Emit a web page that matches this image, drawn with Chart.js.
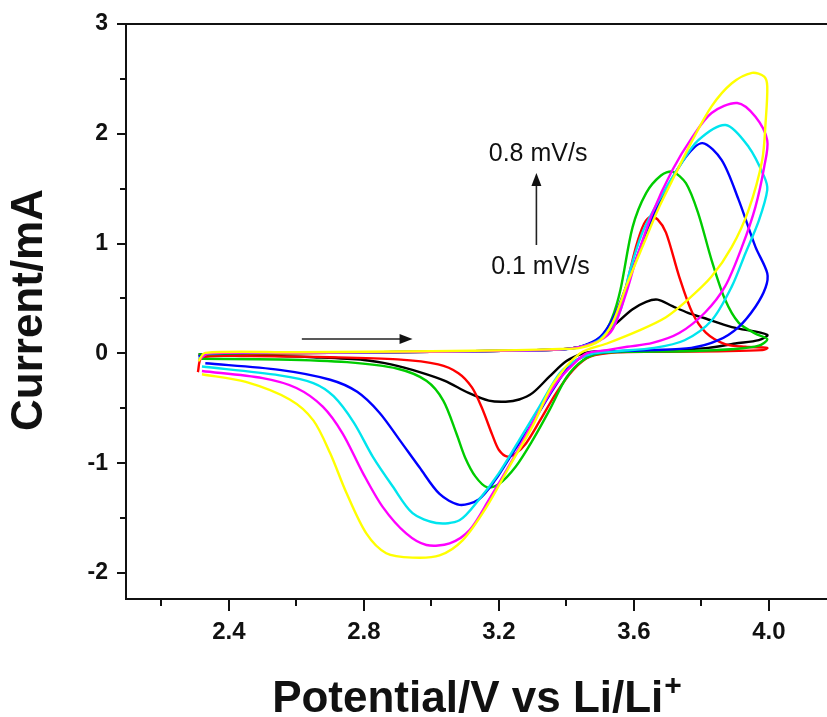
<!DOCTYPE html>
<html>
<head>
<meta charset="utf-8">
<script src="https://cdn.jsdelivr.net/npm/chart.js@4.4.1/dist/chart.umd.min.js"></script>
<style>
  html, body { margin: 0; padding: 0; background: #fff; }
  #wrap { width: 827px; height: 717px; position: relative; }
</style>
</head>
<body>
<div id="wrap"><canvas id="cv_chart"></canvas></div>
<script>
// scan rates in mV/s, slowest first
const scanRates = ['0.1', '0.2', '0.3', '0.4', '0.5', '0.6', '0.8'];
const curveColors = ['#000000', '#ff0000', '#00cc00', '#0000ff', '#00e5ee', '#ff00ff', '#ffff00'];

// one full sweep per rate: [potential (V), current (mA)]
const cv01 = [[2.31,-0.01],[2.45,0.0],[2.7,0.005],[3.0,0.015],[3.25,0.025],[3.38,0.035],[3.44,0.06],[3.48,0.1],[3.51,0.17],[3.55,0.28],[3.595,0.40],[3.636,0.47],[3.67,0.49],[3.714,0.43],[3.76,0.37],[3.81,0.32],[3.89,0.24],[3.995,0.17],[3.97,0.12],[3.9,0.09],[3.82,0.05],[3.7,0.03],[3.58,0.02],[3.5,0.02],[3.45,0.0],[3.40,-0.07],[3.35,-0.21],[3.30,-0.36],[3.26,-0.42],[3.22,-0.44],[3.17,-0.43],[3.11,-0.36],[3.04,-0.25],[2.965,-0.17],[2.88,-0.10],[2.80,-0.06],[2.65,-0.035],[2.5,-0.02],[2.32,-0.015]];
const cv02 = [[2.31,-0.02],[2.45,-0.005],[2.7,0.005],[3.0,0.015],[3.25,0.025],[3.38,0.035],[3.44,0.06],[3.49,0.11],[3.52,0.18],[3.55,0.34],[3.572,0.55],[3.606,0.97],[3.63,1.18],[3.65,1.245],[3.67,1.22],[3.695,1.10],[3.734,0.70],[3.773,0.37],[3.813,0.19],[3.87,0.085],[3.93,0.06],[3.995,0.05],[3.98,0.03],[3.85,0.02],[3.7,0.015],[3.55,0.01],[3.47,-0.03],[3.42,-0.15],[3.37,-0.36],[3.32,-0.62],[3.28,-0.82],[3.25,-0.91],[3.225,-0.94],[3.20,-0.88],[3.18,-0.74],[3.15,-0.50],[3.12,-0.31],[3.08,-0.18],[3.02,-0.10],[2.90,-0.055],[2.70,-0.035],[2.45,-0.025],[2.32,-0.04],[2.308,-0.17]];
const cv03 = [[2.31,-0.01],[2.45,0.0],[2.7,0.005],[3.0,0.015],[3.25,0.025],[3.38,0.035],[3.44,0.06],[3.48,0.1],[3.507,0.16],[3.535,0.32],[3.56,0.58],[3.596,1.15],[3.636,1.46],[3.68,1.62],[3.714,1.655],[3.754,1.55],[3.79,1.28],[3.83,0.85],[3.87,0.49],[3.91,0.28],[3.96,0.18],[3.995,0.13],[3.97,0.07],[3.9,0.04],[3.75,0.02],[3.6,0.015],[3.5,0.0],[3.45,-0.06],[3.40,-0.22],[3.35,-0.515],[3.30,-0.79],[3.25,-1.03],[3.20,-1.19],[3.165,-1.22],[3.13,-1.12],[3.10,-0.95],[3.074,-0.73],[3.035,-0.43],[2.985,-0.25],[2.90,-0.14],[2.75,-0.08],[2.55,-0.055],[2.32,-0.05]];
const cv04 = [[2.31,-0.03],[2.34,0.0],[2.6,0.005],[3.0,0.015],[3.25,0.025],[3.38,0.035],[3.44,0.06],[3.50,0.15],[3.54,0.33],[3.577,0.61],[3.636,1.10],[3.695,1.49],[3.754,1.79],[3.803,1.915],[3.86,1.76],[3.91,1.40],[3.96,0.97],[3.995,0.73],[3.99,0.6],[3.96,0.425],[3.91,0.24],[3.85,0.12],[3.77,0.05],[3.65,0.03],[3.5,0.01],[3.45,-0.03],[3.41,-0.11],[3.36,-0.33],[3.30,-0.63],[3.24,-0.91],[3.19,-1.15],[3.14,-1.33],[3.083,-1.38],[3.024,-1.28],[2.965,-1.04],[2.906,-0.79],[2.846,-0.54],[2.78,-0.35],[2.70,-0.24],[2.55,-0.15],[2.33,-0.09]];
const cv05 = [[2.31,-0.05],[2.34,0.0],[2.6,0.005],[3.0,0.015],[3.25,0.025],[3.38,0.035],[3.44,0.06],[3.50,0.13],[3.557,0.37],[3.586,0.73],[3.625,1.10],[3.675,1.40],[3.734,1.70],[3.79,1.94],[3.872,2.08],[3.94,1.88],[3.986,1.61],[3.995,1.49],[3.97,1.21],[3.93,0.91],[3.89,0.61],[3.83,0.30],[3.75,0.12],[3.66,0.05],[3.55,0.02],[3.48,0.0],[3.43,-0.06],[3.38,-0.18],[3.32,-0.485],[3.26,-0.79],[3.20,-1.09],[3.14,-1.335],[3.083,-1.52],[3.014,-1.545],[2.944,-1.455],[2.885,-1.21],[2.826,-0.94],[2.77,-0.63],[2.71,-0.39],[2.65,-0.27],[2.55,-0.20],[2.32,-0.12]];
const cv06 = [[2.31,-0.06],[2.34,0.0],[2.6,0.005],[3.0,0.015],[3.25,0.025],[3.38,0.035],[3.44,0.06],[3.50,0.12],[3.537,0.22],[3.577,0.55],[3.606,0.85],[3.655,1.28],[3.714,1.67],[3.773,1.97],[3.83,2.19],[3.906,2.28],[3.96,2.155],[3.995,1.94],[3.986,1.70],[3.96,1.335],[3.92,0.97],[3.87,0.61],[3.81,0.37],[3.734,0.185],[3.655,0.095],[3.58,0.06],[3.52,0.03],[3.46,0.0],[3.42,-0.1],[3.37,-0.27],[3.30,-0.63],[3.24,-0.97],[3.17,-1.335],[3.113,-1.61],[3.054,-1.73],[2.985,-1.745],[2.925,-1.64],[2.856,-1.40],[2.797,-1.09],[2.737,-0.73],[2.678,-0.485],[2.60,-0.315],[2.50,-0.225],[2.32,-0.16]];
const cv08 = [[2.31,-0.07],[2.33,0.005],[2.6,0.01],[3.0,0.02],[3.25,0.03],[3.38,0.04],[3.44,0.05],[3.50,0.12],[3.537,0.28],[3.577,0.61],[3.625,0.97],[3.675,1.335],[3.724,1.64],[3.773,1.94],[3.83,2.25],[3.89,2.46],[3.95,2.555],[3.986,2.52],[3.995,2.43],[3.99,2.1],[3.98,1.76],[3.94,1.31],[3.89,0.97],[3.83,0.70],[3.76,0.49],[3.695,0.33],[3.616,0.21],[3.52,0.09],[3.44,0.0],[3.36,-0.28],[3.30,-0.66],[3.231,-1.03],[3.163,-1.40],[3.093,-1.70],[3.024,-1.84],[2.944,-1.86],[2.866,-1.82],[2.807,-1.64],[2.748,-1.27],[2.70,-0.91],[2.65,-0.61],[2.58,-0.42],[2.45,-0.26],[2.32,-0.19]];
const sweeps = [cv01, cv02, cv03, cv04, cv05, cv06, cv08];

const xMajorTicks = [2.4, 2.8, 3.2, 3.6, 4.0];
const xMinorTicks = [2.2, 2.6, 3.0, 3.4, 3.8];
const yMajorTicks = [-2, -1, 0, 1, 2, 3];
const yMinorTicks = [-1.5, -0.5, 0.5, 1.5, 2.5];

const FONT = '"Liberation Sans", Arial, Helvetica, sans-serif';
const INK = '#111111';
const X_MIN = 2.095, X_MAX = 4.172;
const Y_MIN = -2.237, Y_MAX = 3;

function setTicks(list) {
    return function(scale) {
        scale.ticks = list.map(v => ({ value: v }));
    };
}

function drawArrow(ctx, x0, y0, x1, y1) {
    const ang = Math.atan2(y1 - y0, x1 - x0);
    const len = 13, half = 5;
    ctx.beginPath();
    ctx.moveTo(x0, y0);
    ctx.lineTo(x1 - Math.cos(ang) * len * 0.8, y1 - Math.sin(ang) * len * 0.8);
    ctx.stroke();
    ctx.beginPath();
    ctx.moveTo(x1, y1);
    ctx.lineTo(x1 - Math.cos(ang) * len - Math.sin(ang) * half, y1 - Math.sin(ang) * len + Math.cos(ang) * half);
    ctx.lineTo(x1 - Math.cos(ang) * len + Math.sin(ang) * half, y1 - Math.sin(ang) * len - Math.cos(ang) * half);
    ctx.closePath();
    ctx.fill();
}

// axis titles, scan-rate note and sweep direction arrow
const cvDecor = {
    id: 'cvDecor',
    afterDraw(chart) {
        const ctx = chart.ctx;
        const x = chart.scales.x, y = chart.scales.y;
        const area = chart.chartArea;
        ctx.save();
        ctx.fillStyle = INK;
        ctx.strokeStyle = '#222';
        ctx.lineWidth = 1.6;

        ctx.font = '25px ' + FONT;
        ctx.textAlign = 'center';
        ctx.textBaseline = 'middle';
        ctx.fillText('0.8 mV/s', x.getPixelForValue(3.316), y.getPixelForValue(1.816));
        ctx.fillText('0.1 mV/s', x.getPixelForValue(3.323), y.getPixelForValue(0.787));
        drawArrow(ctx, x.getPixelForValue(3.311), y.getPixelForValue(0.987),
                       x.getPixelForValue(3.311), y.getPixelForValue(1.643));
        drawArrow(ctx, x.getPixelForValue(2.616), y.getPixelForValue(0.131),
                       x.getPixelForValue(2.944), y.getPixelForValue(0.131));

        // x title with superscript plus
        const main = 'Potential/V vs Li/Li';
        ctx.font = 'bold 44px ' + FONT;
        const wMain = ctx.measureText(main).width;
        ctx.font = 'bold 30px ' + FONT;
        const wSup = ctx.measureText('+').width;
        const cx = (area.left + area.right) / 2;
        const startX = cx - (wMain + wSup) / 2;
        const base = chart.height - 5;
        ctx.textAlign = 'left';
        ctx.textBaseline = 'alphabetic';
        ctx.font = 'bold 44px ' + FONT;
        ctx.fillText(main, startX, base);
        ctx.font = 'bold 30px ' + FONT;
        ctx.fillText('+', startX + wMain + 1, base - 17);

        // y title
        ctx.translate(30, 310);
        ctx.rotate(-Math.PI / 2);
        ctx.font = 'bold 44px ' + FONT;
        ctx.textAlign = 'center';
        ctx.textBaseline = 'middle';
        ctx.fillText('Current/mA', 0, 0);
        ctx.restore();
    }
};

const datasets = sweeps.map((pts, i) => ({
    label: scanRates[i] + ' mV/s',
    data: pts.map(p => ({ x: p[0], y: p[1] })),
    borderColor: curveColors[i],
    backgroundColor: curveColors[i],
    showLine: true,
    fill: false,
    pointRadius: 0,
    borderWidth: 2.4,
    tension: 0.3
})).reverse();

new Chart(document.getElementById('cv_chart'), {
    type: 'scatter',
    data: { datasets: datasets },
    options: {
        responsive: true,
        maintainAspectRatio: false,
        animation: false,
        layout: { padding: 0 },
        plugins: {
            legend: { display: false },
            tooltip: { enabled: false }
        },
        scales: {
            x: {
                type: 'linear', position: 'bottom', min: X_MIN, max: X_MAX,
                afterBuildTicks: setTicks(xMajorTicks),
                afterFit: s => { s.height = 118; },
                grid: { drawOnChartArea: false, drawTicks: true, tickLength: 12, lineWidth: 2, color: INK },
                border: { display: true, width: 2, color: INK },
                ticks: { color: INK, font: { family: FONT, size: 24, weight: 'bold' }, padding: 7, maxRotation: 0,
                         callback: v => v.toFixed(1) }
            },
            xMinor: {
                type: 'linear', position: 'bottom', weight: -1, min: X_MIN, max: X_MAX,
                afterBuildTicks: setTicks(xMinorTicks),
                afterFit: s => { s.height = 0; },
                grid: { drawOnChartArea: false, drawTicks: true, tickLength: 7, lineWidth: 2, color: INK },
                border: { display: false },
                ticks: { display: false }
            },
            xTop: {
                type: 'linear', position: 'top', min: X_MIN, max: X_MAX,
                afterFit: s => { s.height = 24; },
                grid: { drawOnChartArea: false, drawTicks: false },
                border: { display: true, width: 2, color: INK },
                ticks: { display: false }
            },
            y: {
                type: 'linear', position: 'left', min: Y_MIN, max: Y_MAX,
                afterBuildTicks: setTicks(yMajorTicks),
                afterFit: s => { s.width = 126; },
                grid: { drawOnChartArea: false, drawTicks: true, tickLength: 9, lineWidth: 2, color: INK },
                border: { display: true, width: 2, color: INK },
                ticks: { color: INK, font: { family: FONT, size: 23, weight: 'bold' }, padding: 9,
                         callback: v => String(v) }
            },
            yMinor: {
                type: 'linear', position: 'left', weight: -1, min: Y_MIN, max: Y_MAX,
                afterBuildTicks: setTicks(yMinorTicks),
                afterFit: s => { s.width = 0; },
                grid: { drawOnChartArea: false, drawTicks: true, tickLength: 6, lineWidth: 2, color: INK },
                border: { display: false },
                ticks: { display: false }
            }
        }
    },
    plugins: [cvDecor]
});
</script>
</body>
</html>
